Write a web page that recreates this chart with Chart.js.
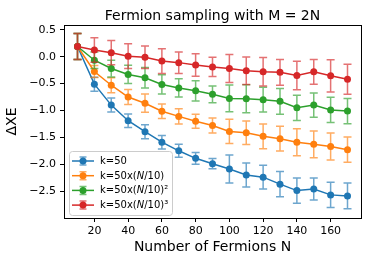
<!DOCTYPE html>
<html>
<head>
<meta charset="utf-8">
<script src="https://cdn.jsdelivr.net/npm/chart.js@4.4.0/dist/chart.umd.min.js"></script>
<style>
    html, body { margin: 0; padding: 0; background: #fff; }
</style>
</head>
<body>
<canvas id="myChart" width="385" height="256"></canvas>
<script>
// number of fermions on the x axis
const fermions = [10, 20, 30, 40, 50, 60, 70, 80, 90, 100, 110, 120, 130, 140, 150, 160, 170];
const xTicks = [20, 40, 60, 80, 100, 120, 140, 160];
const yTicks = [-2.5, -2.0, -1.5, -1.0, -0.5, 0.0, 0.5];

const seriesLabels = ['k=50', 'k=50x(N/10)', 'k=50x(N/10)²', 'k=50x(N/10)³'];
const seriesColors = ['#1f77b4', '#ff7f0e', '#2ca02c', '#d62728'];

// mean ΔXE and error for each k
const meanK50 = [0.19, -0.51, -0.90, -1.19, -1.395, -1.59, -1.75, -1.89, -1.99, -2.09, -2.20, -2.24, -2.37, -2.49, -2.46, -2.57, -2.59];
const errK50 = [0.24, 0.13, 0.13, 0.125, 0.13, 0.125, 0.12, 0.11, 0.095, 0.26, 0.225, 0.22, 0.235, 0.235, 0.205, 0.235, 0.24];

const meanK50N = [0.19, -0.275, -0.53, -0.75, -0.865, -1.015, -1.11, -1.20, -1.28, -1.39, -1.415, -1.48, -1.525, -1.59, -1.63, -1.67, -1.73];
const errK50N = [0.24, 0.11, 0.14, 0.14, 0.17, 0.135, 0.14, 0.13, 0.14, 0.225, 0.22, 0.23, 0.23, 0.25, 0.25, 0.25, 0.235];

const meanK50N2 = [0.19, -0.065, -0.22, -0.33, -0.39, -0.515, -0.58, -0.635, -0.70, -0.775, -0.78, -0.80, -0.83, -0.95, -0.90, -0.99, -1.01];
const errK50N2 = [0.24, 0.155, 0.155, 0.17, 0.19, 0.18, 0.17, 0.19, 0.155, 0.25, 0.26, 0.23, 0.24, 0.235, 0.225, 0.235, 0.235];

const meanK50N3 = [0.19, 0.125, 0.075, 0.01, -0.01, -0.08, -0.11, -0.155, -0.19, -0.22, -0.26, -0.28, -0.29, -0.35, -0.28, -0.355, -0.42];
const errK50N3 = [0.24, 0.23, 0.225, 0.23, 0.21, 0.23, 0.2, 0.21, 0.18, 0.26, 0.255, 0.265, 0.24, 0.265, 0.23, 0.3, 0.28];

const allMeans = [meanK50, meanK50N, meanK50N2, meanK50N3];
const allErrors = [errK50, errK50N, errK50N2, errK50N3];

const FONT = "'DejaVu Sans', sans-serif";

// error bars drawn just before each line, so later series sit on top
const errorBarPlugin = {
    id: 'errorBars',
    beforeDatasetDraw(chart, args) {
        const ds = chart.data.datasets[args.index];
        const xs = chart.scales.x;
        const ys = chart.scales.y;
        const ctx = chart.ctx;
        ctx.save();
        ctx.globalAlpha = 0.65;
        ctx.strokeStyle = ds.borderColor;
        ctx.lineWidth = 1.5;
        ds.data.forEach((p, i) => {
            const x = xs.getPixelForValue(p.x);
            const yTop = ys.getPixelForValue(p.y + ds.errors[i]);
            const yBot = ys.getPixelForValue(p.y - ds.errors[i]);
            ctx.beginPath();
            ctx.moveTo(x, yTop); ctx.lineTo(x, yBot);
            ctx.moveTo(x - 4, yTop); ctx.lineTo(x + 4, yTop);
            ctx.moveTo(x - 4, yBot); ctx.lineTo(x + 4, yBot);
            ctx.stroke();
        });
        ctx.restore();
    }
};

// title, frame and legend box
const decorPlugin = {
    id: 'decor',
    afterDraw(chart) {
        const ctx = chart.ctx;
        const a = chart.chartArea;
        ctx.save();
        ctx.strokeStyle = '#000';
        ctx.lineWidth = 1;
        ctx.strokeRect(a.left + 0.5, a.top + 0.5, a.right - a.left, a.bottom - a.top);

        ctx.fillStyle = '#000';
        ctx.font = '14px ' + FONT;
        ctx.textAlign = 'center';
        ctx.textBaseline = 'alphabetic';
        ctx.fillText('Fermion sampling with M = 2N', (a.left + a.right) / 2, 20);

        // legend
        const bx = a.left + 5, by = a.bottom - 67, bw = 103, bh = 64;
        ctx.globalAlpha = 0.8;
        ctx.fillStyle = '#fff';
        ctx.beginPath();
        ctx.roundRect(bx + 0.5, by + 0.5, bw, bh, 3);
        ctx.fill();
        ctx.globalAlpha = 1;
        ctx.strokeStyle = '#ccc';
        ctx.stroke();

        seriesLabels.forEach((label, i) => {
            const cy = by + 10 + i * 14.7;
            const col = seriesColors[i];
            ctx.strokeStyle = col;
            ctx.fillStyle = col;
            ctx.lineWidth = 1.5;
            ctx.beginPath();
            ctx.moveTo(bx + 3, cy); ctx.lineTo(bx + 25, cy);
            ctx.stroke();
            ctx.globalAlpha = 0.65;
            ctx.beginPath();
            ctx.moveTo(bx + 14, cy - 4); ctx.lineTo(bx + 14, cy + 4);
            ctx.moveTo(bx + 10.5, cy - 4); ctx.lineTo(bx + 17.5, cy - 4);
            ctx.moveTo(bx + 10.5, cy + 4); ctx.lineTo(bx + 17.5, cy + 4);
            ctx.stroke();
            ctx.globalAlpha = 1;
            ctx.beginPath();
            ctx.arc(bx + 14, cy, 3.5, 0, Math.PI * 2);
            ctx.fill();

            // text with italic N
            ctx.fillStyle = '#000';
            ctx.textAlign = 'left';
            ctx.textBaseline = 'middle';
            let tx = bx + 31;
            label.split(/(N)/).forEach(part => {
                if (!part) return;
                ctx.font = (part === 'N' ? 'italic ' : '') + '10px ' + FONT;
                ctx.fillText(part, tx, cy + 0.5);
                tx += ctx.measureText(part).width;
            });
        });
        ctx.restore();
    }
};

const fmt = v => v.toFixed(1).replace('-', '\u2212');

const datasets = seriesLabels.map((label, i) => ({
    label: label,
    data: fermions.map((n, j) => ({ x: n, y: allMeans[i][j] })),
    errors: allErrors[i],
    borderColor: seriesColors[i],
    backgroundColor: seriesColors[i],
    borderWidth: 1.5,
    pointRadius: 3.5,
    pointBorderWidth: 0,
    pointBackgroundColor: seriesColors[i],
    tension: 0,
    order: 3 - i
}));

let ctx = document.getElementById('myChart').getContext('2d');
new Chart(ctx, {
    type: 'line',
    data: { datasets: datasets },
    options: {
        responsive: false,
        animation: false,
        devicePixelRatio: 1,
        layout: { padding: { top: 25, right: 24, left: 0, bottom: 0 } },
        plugins: {
            legend: { display: false },
            title: { display: false },
            tooltip: { enabled: false }
        },
        scales: {
            x: {
                type: 'linear',
                min: 2,
                max: 178,
                afterBuildTicks: s => { s.ticks = xTicks.map(v => ({ value: v })); },
                afterFit: s => { s.height = 38; },
                grid: { display: true, drawOnChartArea: false, color: '#000', tickLength: 4 },
                border: { display: false },
                ticks: { font: { size: 11, family: FONT }, color: '#000', padding: 3, maxRotation: 0, autoSkip: false },
                title: { display: true, text: 'Number of Fermions N', font: { size: 14, family: FONT }, color: '#000', padding: { top: 0, bottom: 0 } }
            },
            y: {
                min: -3.0,
                max: 0.59,
                afterBuildTicks: s => { s.ticks = yTicks.map(v => ({ value: v })); },
                afterFit: s => { s.width = 64; },
                grid: { display: true, drawOnChartArea: false, color: '#000', tickLength: 4 },
                border: { display: false },
                ticks: { font: { size: 11, family: FONT }, color: '#000', padding: 4, callback: v => fmt(v) },
                title: { display: true, text: 'ΔXE', font: { size: 14, family: FONT }, color: '#000', padding: { top: 4, bottom: 0 } }
            }
        }
    },
    plugins: [errorBarPlugin, decorPlugin]
});
</script>
</body>
</html>
